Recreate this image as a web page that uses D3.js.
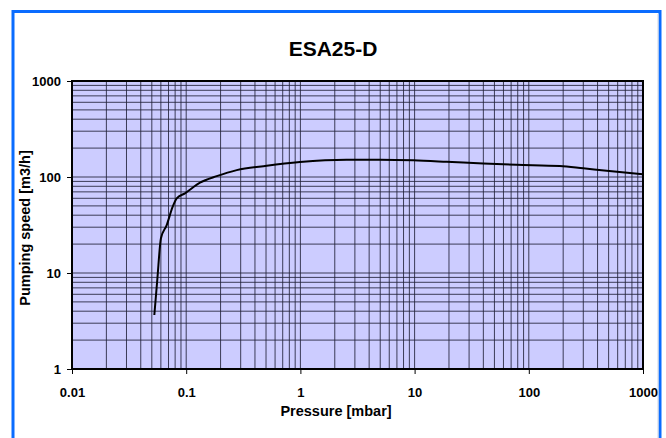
<!DOCTYPE html>
<html><head><meta charset="utf-8">
<script src="https://cdn.jsdelivr.net/npm/d3@7"></script>
<style>html,body{margin:0;padding:0;background:#fff;}svg{display:block;}</style>
</head><body>
<svg id="c" width="666" height="438"></svg>
<script>
const title = "ESA25-D";
const xLabel = "Pressure [mbar]";
const yLabel = "Pumping speed [m3/h]";
const xTicks = [0.01, 0.1, 1, 10, 100, 1000];
const xTickLabels = ["0.01", "0.1", "1", "10", "100", "1000"];
const yTicks = [1, 10, 100, 1000];
const yTickLabels = ["1", "10", "100", "1000"];
const pressure = [0.0526, 0.0558, 0.0601, 0.0675, 0.0762, 0.0826, 0.0976, 0.132, 0.185, 0.277, 0.507, 0.99, 2.54, 4.98, 9.75, 19.1, 40, 78, 187, 300, 481, 1000];
const speed    = [3.65, 8.45, 23, 31.6, 49.1, 60, 67.6, 87.3, 102, 118, 131, 143, 151, 151, 149, 144, 138, 134, 130, 123, 116, 107];

const svg = d3.select("#c");
const L = 72, R = 643, T = 81, B = 369;
const x = d3.scaleLog().domain([0.01, 1000]).range([L, R]);
const y = d3.scaleLog().domain([1, 1000]).range([B, T]);
const font = "'Liberation Sans', Arial, sans-serif";

// outer frame
svg.append("rect").attr("x", 13).attr("y", 11.5).attr("width", 647).attr("height", 440)
  .attr("fill", "#fff").attr("stroke", "#0a6cff").attr("stroke-width", 3);
svg.append("line").attr("x1", 658).attr("x2", 658).attr("y1", 14).attr("y2", 438)
  .attr("stroke", "#d0d4e0").attr("stroke-width", 1);

// title
svg.append("text").attr("x", 333).attr("y", 56).attr("text-anchor", "middle")
  .attr("font-family", font).attr("font-weight", "bold").attr("font-size", 21).text(title);

// plot bg
svg.append("rect").attr("x", L).attr("y", T).attr("width", R - L).attr("height", B - T).attr("fill", "#ccccff");

// grid
const minorX = [];
for (let d = -2; d < 3; d++) for (let k = 2; k <= 9; k++) minorX.push(k * Math.pow(10, d));
const minorY = [];
for (let d = 0; d < 3; d++) for (let k = 2; k <= 9; k++) minorY.push(k * Math.pow(10, d));
const g = svg.append("g").attr("stroke", "#22223a").attr("stroke-width", 1).attr("stroke-opacity", 0.85);
g.selectAll(".vx").data(minorX.concat(xTicks)).join("line")
  .attr("x1", d => x(d)).attr("x2", d => x(d)).attr("y1", T).attr("y2", B);
g.selectAll(".hy").data(minorY.concat(yTicks)).join("line")
  .attr("y1", d => y(d)).attr("y2", d => y(d)).attr("x1", L).attr("x2", R);

// curve
const pts = pressure.map((p, i) => [p, speed[i]]);
svg.append("path").datum(pts)
  .attr("d", d3.line().x(d => x(d[0])).y(d => y(d[1])).curve(d3.curveMonotoneX))
  .attr("fill", "none").attr("stroke", "#000").attr("stroke-width", 2).attr("stroke-linejoin", "round");

// plot border
svg.append("rect").attr("x", L).attr("y", T).attr("width", R - L).attr("height", B - T)
  .attr("fill", "none").attr("stroke", "#000").attr("stroke-width", 2);

// axes
const xAxis = d3.axisBottom(x).tickValues(xTicks).tickFormat((d, i) => xTickLabels[i]).tickSizeOuter(0).tickSizeInner(5).tickPadding(14);
const xa = svg.append("g").attr("transform", `translate(0,${B})`).call(xAxis);
xa.select(".domain").remove();
xa.selectAll("text").attr("font-family", font).attr("font-weight", "bold").attr("font-size", 13).attr("fill", "#000");
xa.selectAll("line").attr("stroke", "#000");

const yAxis = d3.axisLeft(y).tickValues(yTicks).tickFormat((d, i) => yTickLabels[i]).tickSizeOuter(0).tickSizeInner(5).tickPadding(6);
const ya = svg.append("g").attr("transform", `translate(${L},0)`).call(yAxis);
ya.select(".domain").remove();
ya.selectAll("text").attr("font-family", font).attr("font-weight", "bold").attr("font-size", 13).attr("fill", "#000");
ya.selectAll("line").attr("stroke", "#000");

// axis labels
svg.append("text").attr("x", 336).attr("y", 416).attr("text-anchor", "middle")
  .attr("font-family", font).attr("font-weight", "bold").attr("font-size", 14.5).text(xLabel);
svg.append("text").attr("transform", "translate(30,228) rotate(-90)").attr("text-anchor", "middle")
  .attr("font-family", font).attr("font-weight", "bold").attr("font-size", 14.5).text(yLabel);
</script>
</body></html>
